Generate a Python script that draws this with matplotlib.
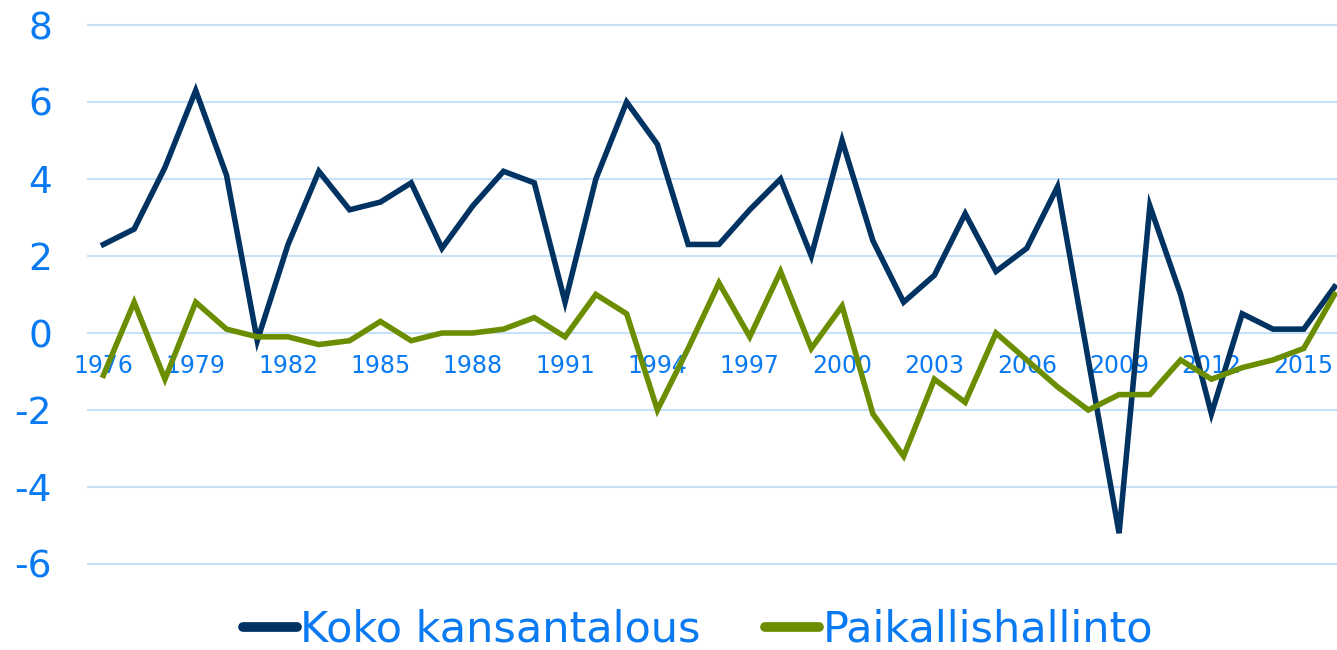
import matplotlib
matplotlib.use("Agg")
import matplotlib.pyplot as plt
from matplotlib.lines import Line2D

# palette
NAVY = "#003262"
GREEN = "#6b8e00"
TEXT_BLUE = "#0a7af2"
GRID = "#c8e1fa"

years = list(range(1976, 2017))
koko = [2.3, 2.7, 4.3, 6.3, 4.1, -0.2, 2.3, 4.2, 3.2, 3.4,
        3.9, 2.2, 3.3, 4.2, 3.9, 0.8, 4.0, 6.0, 4.9, 2.3,
        2.3, 3.2, 4.0, 2.0, 5.0, 2.4, 0.8, 1.5, 3.1, 1.6,
        2.2, 3.8, -0.7, -5.2, 3.3, 1.0, -2.1, 0.5, 0.1, 0.1,
        1.2]
paikallis = [-1.1, 0.8, -1.2, 0.8, 0.1, -0.1, -0.1, -0.3, -0.2, 0.3,
             -0.2, 0.0, 0.0, 0.1, 0.4, -0.1, 1.0, 0.5, -2.0, -0.4,
             1.3, -0.1, 1.6, -0.4, 0.7, -2.1, -3.2, -1.2, -1.8, 0.0,
             -0.7, -1.4, -2.0, -1.6, -1.6, -0.7, -1.2, -0.9, -0.7, -0.4,
             1.0]
xtick_years = list(range(1976, 2017, 3))
yticks = [-6, -4, -2, 0, 2, 4, 6, 8]
labels = ["Koko kansantalous", "Paikallishallinto"]

fig = plt.figure(figsize=(13.37, 6.5), dpi=100)
ax = fig.add_axes([88 / 1337, 86 / 650, 1249 / 1337, 539 / 650])

for y in yticks:
    ax.axhline(y, color=GRID, linewidth=1.5, zorder=1, clip_on=False)

ax.plot(years, koko, color=NAVY, linewidth=4, solid_joinstyle="miter", zorder=3)
ax.plot(years, paikallis, color=GREEN, linewidth=4, solid_joinstyle="miter", zorder=3)

ax.set_xlim(1975.5, 2016.08)
ax.set_ylim(-6, 8)

for spine in ax.spines.values():
    spine.set_visible(False)
ax.spines["bottom"].set_position(("data", 0))

ax.set_yticks(yticks)
ax.set_yticklabels([str(v) for v in yticks])
ax.set_xticks(xtick_years)
ax.set_xticklabels([str(v) for v in xtick_years])
ax.tick_params(axis="y", length=0, pad=26, labelsize=27, labelcolor=TEXT_BLUE)
ax.tick_params(axis="x", length=0, pad=15, labelsize=17, labelcolor=TEXT_BLUE)
for t in ax.get_xticklabels():
    t.set_zorder(2)

handles = [Line2D([0], [0], color=NAVY, linewidth=7, solid_capstyle="round"),
           Line2D([0], [0], color=GREEN, linewidth=7, solid_capstyle="round")]
leg = fig.legend(handles, labels, loc="center", bbox_to_anchor=(0.522, 1 - 630 / 650),
                 ncol=2, frameon=False, fontsize=31, handlelength=1.25,
                 handletextpad=0.08, columnspacing=1.5, labelcolor=TEXT_BLUE,
                 borderpad=0.1)

fig.savefig("out.png", dpi=100, facecolor="white")
